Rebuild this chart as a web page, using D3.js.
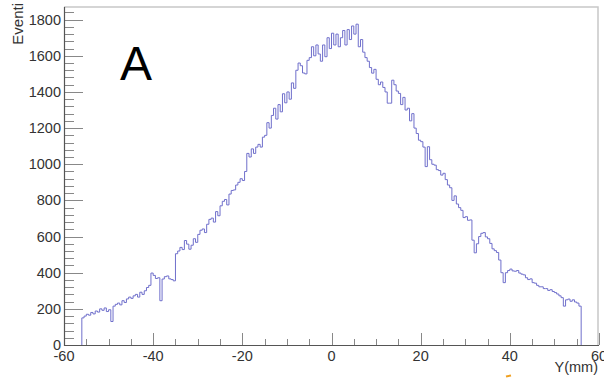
<!DOCTYPE html>
<html>
<head>
<meta charset="utf-8">
<script src="https://cdn.jsdelivr.net/npm/d3@7"></script>
<style>
  body { margin: 0; background: #fff; }
  text { font-family: "Liberation Sans", Arial, sans-serif; }
</style>
</head>
<body>
<script>
// histogram of event counts vs Y position, 0.5 mm bins starting at -56 mm
const binLow = -56;
const binWidth = 0.5;
const counts = [
  150, 160, 170, 165, 180, 172, 188, 182, 200, 192, 205, 185, 195, 130,
  215, 225, 232, 222, 245, 235, 255, 265, 258, 272, 280, 265, 292, 280,
  300, 318, 330, 398, 385, 368, 372, 245, 365, 378, 382, 366, 362, 355,
  505, 520, 540, 528, 578, 558, 530, 552, 588, 568, 612, 635, 642, 622,
  668, 695, 702, 680, 738, 715, 770, 795, 805, 775, 835, 855, 858, 885,
  900, 920, 910, 960, 1060, 1040, 1085, 1060, 1095, 1110, 1095, 1150,
  1160, 1230, 1200, 1270, 1310, 1250, 1330, 1290, 1390, 1340, 1400, 1360,
  1450, 1420, 1520, 1560, 1545, 1505, 1500, 1575, 1590, 1650, 1600, 1660,
  1610, 1570, 1660, 1595, 1700, 1640, 1725, 1660, 1720, 1650, 1700, 1740,
  1660, 1745, 1690, 1765, 1720, 1775, 1650, 1690, 1620, 1590, 1570, 1535,
  1504, 1525, 1470, 1440, 1455, 1425, 1400, 1338, 1338, 1465, 1440, 1405,
  1392, 1330, 1370, 1300, 1310, 1240, 1280, 1200, 1170, 1133, 1125, 1095,
  987, 1097, 1025, 1000, 995, 970, 965, 940, 950, 915, 885, 870,
  800, 825, 780, 760, 745, 705, 710, 690, 692, 580, 510, 560,
  600, 618, 622, 598, 588, 562, 532, 522, 512, 470, 400, 345,
  400, 412, 420, 410, 408, 412, 398, 392, 388, 372, 362, 366,
  345, 342, 330, 322, 322, 312, 312, 302, 306, 296, 290, 282,
  272, 262, 215, 250, 254, 242, 250, 238, 232, 215
];
const xMajorTicks = [-60, -40, -20, 0, 20, 40, 60];
const yMajorTicks = [0, 200, 400, 600, 800, 1000, 1200, 1400, 1600, 1800];
const xTitle = "Y(mm)";
const yTitle = "Eventi";
const panelLabel = "A";

const width = 604, height = 378;
const padL = 64, padR = 599, padT = 7, padB = 345;

const svg = d3.select("body").append("svg")
  .attr("width", width)
  .attr("height", height);

const x = d3.scaleLinear().domain([-60, 60]).range([padL, padR]);
const y = d3.scaleLinear().domain([0, 1870]).range([padB, padT]);

// frame (top/right light grey)
svg.append("path")
  .attr("d", `M${padL},${padT}H${padR - 1}V${padB}`)
  .attr("fill", "none")
  .attr("stroke", "#c8c8c8")
  .attr("stroke-width", 1.5);

// step line of the histogram
const pts = [[binLow, 0]];
counts.forEach((c, i) => {
  const lo = binLow + i * binWidth;
  pts.push([lo, c], [lo + binWidth, c]);
});
pts.push([binLow + counts.length * binWidth, 0]);

svg.append("path")
  .datum(pts)
  .attr("d", d3.line().x(d => x(d[0])).y(d => y(d[1])))
  .attr("fill", "none")
  .attr("stroke", "#6f6fcb")
  .attr("stroke-width", 1);

// y axis ticks (inside, ROOT style)
const yMinor = d3.range(0, 1870, 40);
svg.append("g").selectAll("line")
  .data(yMinor)
  .join("line")
  .attr("x1", padL)
  .attr("x2", d => padL + (d % 200 === 0 ? 19 : 10))
  .attr("y1", d => Math.round(y(d)) + 0.5)
  .attr("y2", d => Math.round(y(d)) + 0.5)
  .attr("stroke", "#888");

svg.append("g").selectAll("text")
  .data(yMajorTicks)
  .join("text")
  .attr("x", padL - 3)
  .attr("y", d => y(d) + 5)
  .attr("text-anchor", "end")
  .attr("font-size", 14.5)
  .attr("fill", "#333")
  .text(d => d);

// x axis ticks
const xMinor = d3.range(-60, 61, 5);
svg.append("g").selectAll("line")
  .data(xMinor)
  .join("line")
  .attr("x1", d => Math.round(x(d)) + 0.5)
  .attr("x2", d => Math.round(x(d)) + 0.5)
  .attr("y1", padB)
  .attr("y2", d => padB - (d % 20 === 0 ? 12 : 6))
  .attr("stroke", "#888");

svg.append("g").selectAll("text")
  .data(xMajorTicks)
  .join("text")
  .attr("x", d => x(d))
  .attr("y", padB + 16)
  .attr("text-anchor", "middle")
  .attr("font-size", 14.5)
  .attr("fill", "#333")
  .text(d => d);

// axis lines
svg.append("path")
  .attr("d", `M${padL + 0.5},${padT}V${padB + 0.5}H${padR}`)
  .attr("fill", "none")
  .attr("stroke", "#555")
  .attr("stroke-width", 1.2);

// titles
svg.append("text")
  .attr("transform", `translate(23,3) rotate(-90)`)
  .attr("text-anchor", "end")
  .attr("font-size", 15)
  .attr("fill", "#333")
  .text(yTitle);

svg.append("text")
  .attr("x", 598)
  .attr("y", 372)
  .attr("text-anchor", "end")
  .attr("font-size", 14.5)
  .attr("fill", "#333")
  .text(xTitle);

svg.append("text")
  .attr("x", 120)
  .attr("y", 80)
  .attr("font-size", 48)
  .attr("fill", "#000")
  .text(panelLabel);

// small orange fragment at the bottom edge
svg.append("line")
  .attr("x1", 506).attr("x2", 511)
  .attr("y1", 376.5).attr("y2", 375.5)
  .attr("stroke", "#f0a020")
  .attr("stroke-width", 2);
</script>
</body>
</html>
